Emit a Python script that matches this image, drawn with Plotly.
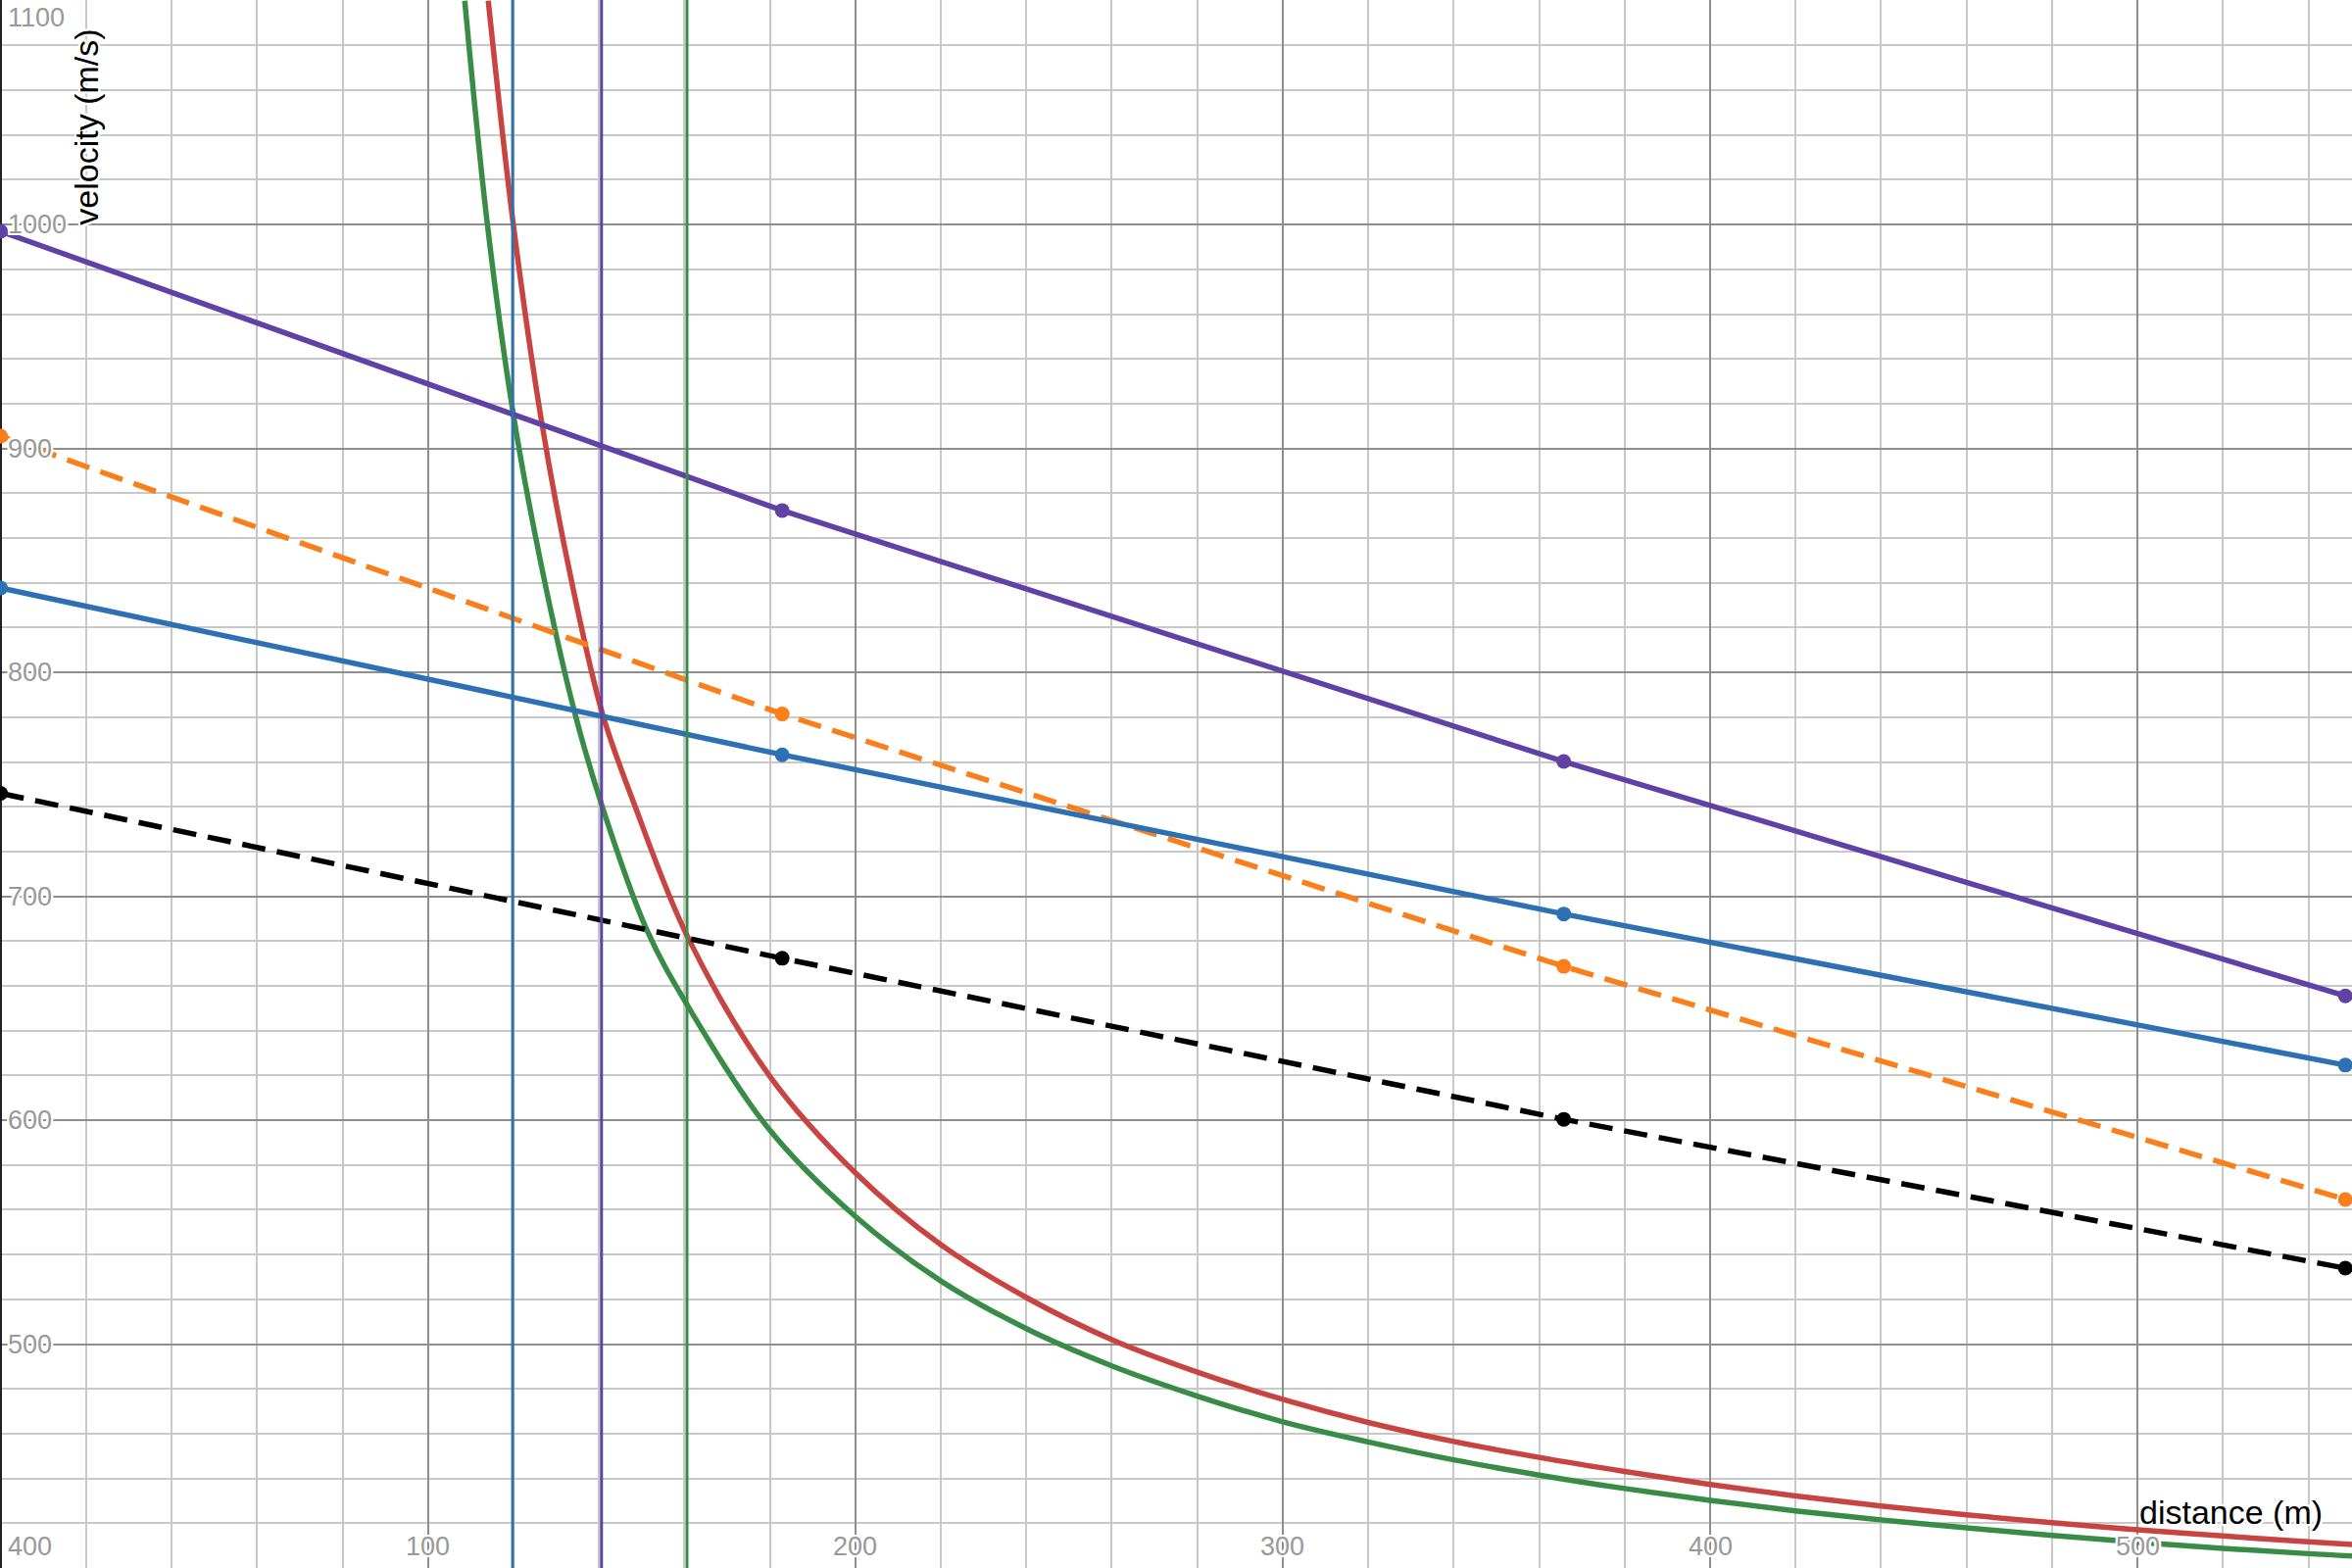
import plotly.graph_objects as go

# distances of the measured points (m) and velocities (m/s)
dist_pts = [0, 182.88, 365.76, 548.64]
v_purple = [997, 872.3, 760.2, 655.5]
v_orange = [905.5, 781.4, 668.7, 564.6]
v_blue = [837.7, 763.2, 692.1, 624.6]
v_black = [746, 672.3, 600.4, 533.9]

# curves
red_x = [114.1, 119.9, 126.7, 134.0, 140.9, 148.2, 160.8, 180, 200, 220, 240, 260, 280,
         300, 320, 340, 360, 380, 400, 420, 440, 460, 480, 500, 520, 540, 550.2]
red_v = [1100, 1001, 910.6, 837, 781, 741.5, 681.7, 619.6, 576.5, 544.4, 520.8, 502, 487.5,
         475.3, 465, 456.5, 449.4, 443.1, 437.3, 432.2, 427.7, 423.7, 420.2, 417.1, 414.3, 411.7, 410.5]
green_x = [108.6, 113.9, 119.9, 126.6, 134.2, 140.9, 151.2, 160.8, 180, 200, 220, 240, 260,
           280, 300, 320, 340, 360, 380, 400, 420, 440, 460, 480, 500, 520, 540, 550.2]
green_v = [1100, 1000, 916, 847, 783, 739.3, 685, 651, 595.5, 557, 528.2, 506.9, 490.3,
           476.8, 465.3, 456.3, 448.3, 441.5, 435.5, 430.2, 425.5, 421.5, 417.9, 414.6, 411.5, 408.8, 406.4, 405.4]

# vertical marker lines
vlines_x = [119.8, 140.6, 160.6]
vlines_col = ["#2d70b3", "#6042a6", "#388c46"]

x_ticks = [100, 200, 300, 400, 500]
y_ticks = [400, 500, 600, 700, 800, 900, 1000, 1100]

x_range = [-0.15, 550.2]
y_range = [400, 1100.3]

RED, BLUE, GREEN, PURPLE, ORANGE = "#c74440", "#2d70b3", "#388c46", "#6042a6", "#fa7e19"
halo = ("2px 2px 0 white, -2px -2px 0 white, 2px -2px 0 white, -2px 2px 0 white, "
        "0 2px 0 white, 0 -2px 0 white, 2px 0 0 white, -2px 0 0 white")

fig = go.Figure()

fig.add_trace(go.Scatter(x=green_x, y=green_v, mode="lines", line=dict(color=GREEN, width=5.5, shape="spline")))
fig.add_trace(go.Scatter(x=red_x, y=red_v, mode="lines", line=dict(color=RED, width=5.5, shape="spline")))

fig.add_trace(go.Scatter(x=dist_pts, y=v_black, mode="lines+markers",
                         line=dict(color="black", width=5.5, dash="24px,12px"), marker=dict(size=15, color="black")))
fig.add_trace(go.Scatter(x=dist_pts, y=v_orange, mode="lines+markers",
                         line=dict(color=ORANGE, width=5.5, dash="24px,12px"), marker=dict(size=15, color=ORANGE)))
fig.add_trace(go.Scatter(x=dist_pts, y=v_blue, mode="lines+markers",
                         line=dict(color=BLUE, width=5.5), marker=dict(size=15, color=BLUE)))
fig.add_trace(go.Scatter(x=dist_pts, y=v_purple, mode="lines+markers",
                         line=dict(color=PURPLE, width=5.5), marker=dict(size=15, color=PURPLE)))

for xv, c in zip(vlines_x, vlines_col):
    fig.add_vline(x=xv, line_color=c, line_width=3)

tick_font = dict(family="Liberation Sans, Arial", size=27, color="#999999", shadow=halo)
title_font = dict(family="Liberation Sans, Arial", size=34, color="black", shadow=halo)

annotations = []
for v in y_ticks:
    yy = min(max(v, y_range[0] + 9.5), y_range[1] - 8)
    annotations.append(dict(x=0.0025, xref="paper", y=yy, yref="y", text=str(v), showarrow=False,
                            xanchor="left", yanchor="middle", font=tick_font))
for d in x_ticks:
    annotations.append(dict(x=d, xref="x", y=0.0138, yref="paper", text=str(d), showarrow=False,
                            xanchor="center", yanchor="middle", font=tick_font))
annotations.append(dict(x=0.0367, xref="paper", y=0.919, yref="paper", text="velocity (m/s)", textangle=-90,
                        showarrow=False, xanchor="center", yanchor="middle", font=title_font))
annotations.append(dict(x=0.9485, xref="paper", y=0.0356, yref="paper", text="distance (m)",
                        showarrow=False, xanchor="center", yanchor="middle", font=title_font))

fig.update_layout(
    width=2400, height=1600,
    margin=dict(l=0, r=0, t=0, b=0),
    plot_bgcolor="white", paper_bgcolor="white",
    showlegend=False,
    annotations=annotations,
    xaxis=dict(range=x_range, tick0=0, dtick=100, showgrid=True, gridcolor="#8e8e8e", gridwidth=1.7,
               minor=dict(dtick=20, showgrid=True, gridcolor="#c8c8c8", gridwidth=1.5),
               zeroline=True, zerolinecolor="#222222", zerolinewidth=3,
               showticklabels=False, ticks="", showline=False),
    yaxis=dict(range=y_range, tick0=0, dtick=100, showgrid=True, gridcolor="#8e8e8e", gridwidth=1.7,
               minor=dict(dtick=20, showgrid=True, gridcolor="#c8c8c8", gridwidth=1.5),
               zeroline=False, showticklabels=False, ticks="", showline=False),
)

fig.write_html("out.html", config={"displayModeBar": False},
               post_script="document.body.style.margin='0';")
